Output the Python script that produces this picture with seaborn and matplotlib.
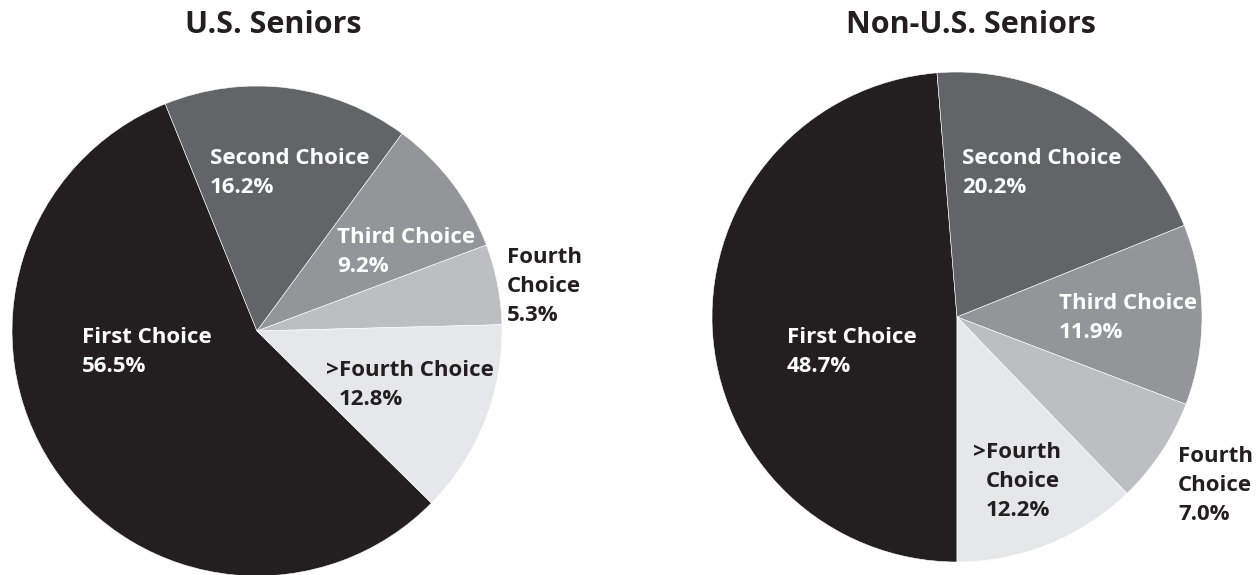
"""Two pies: match rank of U.S. vs non-U.S. seniors."""

import matplotlib

matplotlib.use("Agg")
import matplotlib.pyplot as plt
import seaborn as sns

# data
choice_labels = ["First Choice", "Second Choice", "Third Choice", "Fourth Choice", ">Fourth Choice"]
us_pct = [56.5, 16.2, 9.2, 5.3, 12.8]
non_us_pct = [48.7, 20.2, 11.9, 7.0, 12.2]
titles = ["U.S. Seniors", "Non-U.S. Seniors"]

# how each label is broken over lines in the original
us_label_text = ["First Choice", "Second Choice", "Third Choice", "Fourth\nChoice", ">Fourth Choice"]
non_us_label_text = ["First Choice", "Second Choice", "Third Choice", "Fourth\nChoice", ">Fourth\nChoice"]

# layout (pie units, radius = 1): top-left corner of each label
us_label_xy = [(-0.714, 0.016), (-0.192, 0.745), (0.327, 0.424), (1.020, 0.343), (0.335, -0.118)]
non_us_label_xy = [(-0.694, -0.041), (0.020, 0.688), (0.416, 0.098), (0.902, -0.527), (0.118, -0.510)]

DARK = "#231f20"
slice_colors = sns.color_palette([DARK, "#636466", "#939598", "#bcbec0", "#e6e7e8"])
label_colors = ["white", "white", "white", DARK, DARK]

sns.set_theme(style="white")
plt.rcParams["font.family"] = ["Open Sans", "DejaVu Sans"]

W, H = 1260, 575
fig = plt.figure(figsize=(W / 100, H / 100), dpi=100)
fig.patch.set_facecolor("white")


def draw_pie(rect, values, start, texts, positions, title, title_x):
    ax = fig.add_axes(rect)
    ax.pie(
        values,
        colors=slice_colors,
        startangle=start,
        counterclock=False,
        radius=1,
        wedgeprops={"edgecolor": "white", "linewidth": 0.4},
    )
    ax.set_xlim(-1, 1)
    ax.set_ylim(-1, 1)
    ax.set_aspect("equal")
    ax.axis("off")

    for text, pct, (x, y), color in zip(texts, values, positions, label_colors):
        body = f"{text}\n{pct:.1f}%"
        if body.startswith(">"):
            ax.text(x, y, ">", ha="right", va="top", color=color, fontsize=16,
                    fontweight="bold", clip_on=False)
            body = body[1:]
        ax.text(x, y, body, ha="left", va="top", color=color, fontsize=16,
                fontweight="bold", linespacing=1.5, clip_on=False)

    fig.text(title_x / W, 1 - 33 / H, title, ha="center", va="baseline",
             fontsize=22, fontweight="bold", color=DARK)


draw_pie([12 / W, -1 / H, 490 / W, 490 / H], us_pct, -44.6,
         us_label_text, us_label_xy, titles[0], 273)
draw_pie([712 / W, 13 / H, 490 / W, 490 / H], non_us_pct, -90,
         non_us_label_text, non_us_label_xy, titles[1], 971)

fig.savefig("out.png", dpi=100, facecolor="white")
